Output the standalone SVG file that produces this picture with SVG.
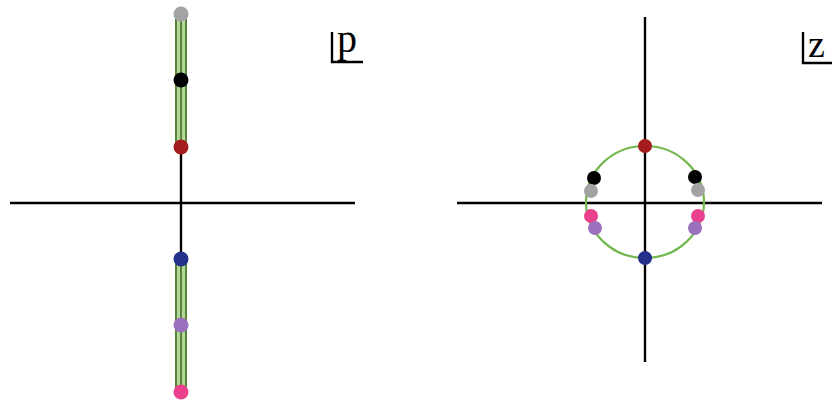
<svg xmlns="http://www.w3.org/2000/svg" width="833" height="401" viewBox="0 0 833 401">
<style>
.ax{stroke:#000;stroke-width:2.4;fill:none}
.bar{fill:#b5d79a}
.stripe{stroke:#3f6e25;stroke-width:1.6}
.lbl{font-family:"Liberation Serif","Times New Roman",serif;fill:#000}
.crn{stroke:#000;stroke-width:2.4;fill:none}
.gray{fill:#a3a3a3}.black{fill:#000}.red{fill:#a51c1c}.blue{fill:#23318a}.purple{fill:#9b70bd}.pink{fill:#e9418d}
</style>
<rect width="833" height="401" fill="#fff"/>
<g id="connectors">
  <line class="ax" x1="10" y1="203" x2="355" y2="203"/>
  <line class="ax" x1="181" y1="147" x2="181" y2="259"/>
  <line class="ax" x1="457" y1="203" x2="822" y2="203"/>
  <line class="ax" x1="645" y1="17" x2="645" y2="362"/>
</g>
<g id="p-plane">
  <g id="bar-upper">
    <rect class="bar" x="175" y="14" width="12" height="133"/>
    <line class="stripe" x1="176" y1="14" x2="176" y2="147"/>
    <line class="stripe" x1="181" y1="14" x2="181" y2="147"/>
    <line class="stripe" x1="186" y1="14" x2="186" y2="147"/>
  </g>
  <g id="bar-lower">
    <rect class="bar" x="175" y="259" width="12" height="133"/>
    <line class="stripe" x1="176" y1="259" x2="176" y2="392"/>
    <line class="stripe" x1="181" y1="259" x2="181" y2="392"/>
    <line class="stripe" x1="186" y1="259" x2="186" y2="392"/>
  </g>
  <circle id="p-gray" class="gray" cx="181" cy="14" r="7.5"/>
  <circle id="p-black" class="black" cx="181" cy="80" r="7.5"/>
  <circle id="p-red" class="red" cx="181" cy="147" r="7.5"/>
  <circle id="p-blue" class="blue" cx="181" cy="259" r="7.5"/>
  <circle id="p-purple" class="purple" cx="181" cy="325" r="7.5"/>
  <circle id="p-pink" class="pink" cx="181" cy="392" r="7.5"/>
  <g id="p-label">
    <path class="crn" d="M332,32 V62 H363"/>
    <text class="lbl" x="337" y="52" font-size="40">p</text>
  </g>
</g>
<g id="z-plane">
  <ellipse id="unit-circle" cx="645" cy="202" rx="59" ry="56" fill="none" stroke="#72b84e" stroke-width="2.2"/>
  <circle id="z-red" class="red" cx="645" cy="146" r="7"/>
  <circle id="z-blue" class="blue" cx="645" cy="258" r="7"/>
  <circle id="z-black-l" class="black" cx="594" cy="178" r="7"/>
  <circle id="z-black-r" class="black" cx="695" cy="177" r="7"/>
  <circle id="z-gray-l" class="gray" cx="591" cy="191" r="7"/>
  <circle id="z-gray-r" class="gray" cx="698" cy="190" r="7"/>
  <circle id="z-pink-l" class="pink" cx="591" cy="216" r="7"/>
  <circle id="z-pink-r" class="pink" cx="698" cy="216" r="7"/>
  <circle id="z-purple-l" class="purple" cx="595" cy="228" r="7"/>
  <circle id="z-purple-r" class="purple" cx="695" cy="228" r="7"/>
  <g id="z-label">
    <path class="crn" d="M803,32 V63 H832"/>
    <text class="lbl" x="808" y="57" font-size="38">z</text>
  </g>
</g>
</svg>
